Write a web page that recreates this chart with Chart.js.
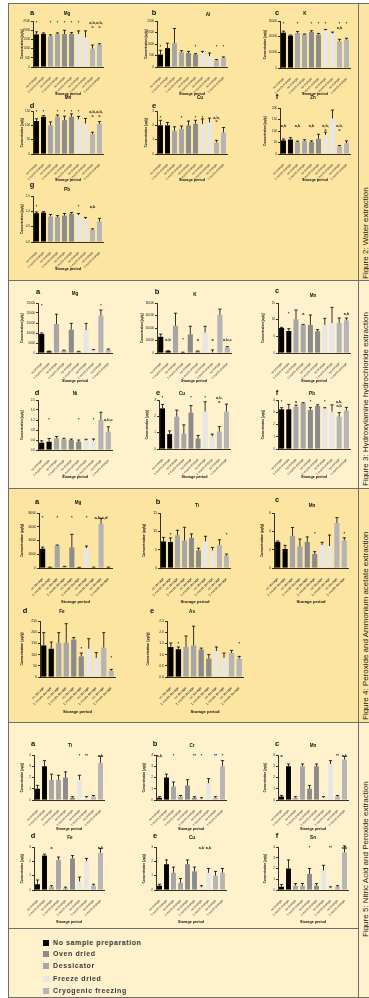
<!DOCTYPE html>
<html>
<head>
<meta charset="utf-8">
<script src="https://cdn.jsdelivr.net/npm/chart.js@4.4.1/dist/chart.umd.min.js"></script>
<style>
  html, body { margin: 0; padding: 0; background: #ffffff; }
  #page { position: relative; width: 369px; height: 998px; overflow: hidden;
          font-family: "Liberation Sans", Arial, sans-serif; color: #111; }
  .band { position: absolute; left: 8px; width: 361px; box-sizing: border-box; }
  .hline { position: absolute; height: 1px; background: #6e6e6e; }
  .vline { position: absolute; width: 1px; background: #6e6e6e; }
  .lbl { position: absolute; transform: translate(-50%, -50%); white-space: nowrap; font-weight: bold; line-height: 1; }
  .side { position: absolute; transform-origin: 0 0; transform: rotate(-90deg); white-space: nowrap;
          font-size: 8px; line-height: 9px; color: #222; }
  .leg { position: absolute; left: 43px; font-size: 7px; font-weight: bold; letter-spacing: 0.6px; color: #3a3a3a; line-height: 8px; }
  .leg i { display: inline-block; width: 6px; height: 6px; margin-right: 4px; vertical-align: -1px; }
  canvas { position: absolute; }
</style>
</head>
<body>
<div id="page"></div>
<script>
// Category axis shared by every panel
const storagePeriods = ['no storage', '1 month storage', 'no storage', '1 month storage', 'no storage',
                        '1 month storage', 'no storage', '1 month storage', 'no storage', '1 month storage'];

// ---- Figure 2: water extraction ----
const waterMg    = [1770, 1800, 1680, 1800, 1800, 1800, 1800, 1610, 1000, 1210];
const waterMgErr = [140, 55, 70, 55, 195, 70, 160, 355, 195, 55];
const waterMgSig = ['*', '', '*', '*', '*', '*', '*', '', 'a,b,\nc', 'a,b,\nc'];

const waterAl    = [540, 820, 1035, 640, 610, 540, 610, 470, 285, 400];
const waterAlErr = [185, 215, 640, 70, 70, 40, 70, 140, 40, 40];
const waterAlSig = ['*', '', '', '', '', '*', '', '', '*', '*'];

const waterK     = [22550, 20640, 22340, 21490, 22980, 21280, 24040, 22130, 17020, 18090];
const waterKErr  = [1000, 400, 1000, 200, 800, 800, 600, 800, 1300, 900];
const waterKSig  = ['*', '', '*', '', '*', '*', '*', '', '*\na,b', '*'];

const waterMn    = [115, 130, 100, 130, 118, 130, 121, 106, 70, 105];
const waterMnErr = [8, 4, 12, 6, 14, 10, 10, 18, 6, 8];
const waterMnSig = ['*', '*', '', '*', '*', '*', '*', '', 'a,b,\nc', 'a,b,\nc'];

const waterCu    = [2.0, 2.0, 1.6, 1.75, 2.0, 2.1, 2.1, 2.2, 0.8, 1.5];
const waterCuErr = [0.35, 0.2, 0.3, 0.2, 0.3, 0.25, 0.35, 0.3, 0.15, 0.35];
const waterCuSig = ['*', '', '', '*', '', '*', '*', '', 'a,b,\nc', ''];

const waterZn    = [59, 63, 52, 57, 52, 66, 83, 155, 33, 47];
const waterZnErr = [6, 8, 4, 5, 5, 20, 12, 36, 4, 10];
const waterZnSig = ['a,b', '', 'a,b', '', 'a,b', '', 'a,b,\nc', '', 'a,b,\nc', ''];

const waterPb    = [0.94, 0.96, 0.83, 0.81, 0.86, 0.92, 0.88, 0.75, 0.40, 0.67];
const waterPbErr = [0.04, 0.03, 0.07, 0.05, 0.07, 0.04, 0.05, 0.05, 0.03, 0.10];
const waterPbSig = ['*', '', '', '', '', '', '*', '', 'a,b', ''];

// ---- Figure 3: hydroxylamine hydrochloride extraction ----
const hydroxMg    = [9500, 850, 14500, 1200, 11650, 700, 11500, 1400, 18700, 1500];
const hydroxMgErr = [500, 150, 4900, 200, 3200, 150, 3300, 300, 2800, 500];
const hydroxMgSig = ['*', '', '', '', '', '', '', '', '*', ''];

const hydroxK     = [25900, 3200, 43700, 1100, 29800, 2800, 33000, 1000, 61000, 8700];
const hydroxKErr  = [4300, 600, 20000, 300, 13000, 500, 9700, 4000, 9200, 1500];
const hydroxKSig  = ['', 'a,b', '', '*', '', 'a', '', 'a', '', 'a,b,c'];

const hydroxMn    = [7.5, 6.6, 10.1, 8.4, 8.4, 6.5, 8.4, 9.0, 9.0, 9.8];
const hydroxMnErr = [0.2, 0.7, 2.8, 0.2, 3.0, 0.5, 2.0, 4.7, 1.5, 0.7];
const hydroxMnSig = ['', '*', '', 'a', '', '', '', '', '', 'a,b'];

const hydroxNi    = [0.29, 0.33, 0.47, 0.43, 0.40, 0.33, 0.38, 0.37, 1.20, 0.73];
const hydroxNiErr = [0.08, 0.13, 0.07, 0.04, 0.04, 0.07, 0.05, 0.07, 0.31, 0.20];
const hydroxNiSig = ['', '*', '', '', '', '*', '', '*', '', 'a,b,c'];

const hydroxCu    = [2.49, 0.91, 1.98, 0.93, 2.23, 0.63, 2.29, 0.77, 1.07, 2.29];
const hydroxCuErr = [0.24, 0.2, 0.4, 0.55, 0.43, 0.2, 0.6, 0.14, 0.3, 0.46];
const hydroxCuSig = ['*', '', '', '', '*', '', '*', '', 'a,b,\na', ''];

const hydroxPb    = [3.24, 3.24, 3.45, 3.73, 3.18, 3.51, 3.32, 3.05, 2.64, 3.13];
const hydroxPbErr = [0.13, 0.4, 0.13, 0.05, 0.2, 0.1, 0.05, 0.55, 0.33, 0.27];
const hydroxPbSig = ['*', '', 'a', '', '*', '', '*', '', 'a,b,\na,b', ''];

// ---- Figure 4: peroxide and ammonium acetate extraction ----
const acetateMg    = [2800, 100, 3240, 200, 3000, 80, 2900, 100, 6440, 100];
const acetateMgErr = [240, 30, 100, 50, 1900, 20, 300, 30, 780, 30];
const acetateMgSig = ['*', '', '*', '', '*', '', '*', '', 'a,b,c,d', ''];

const acetateTi    = [7.25, 7.1, 8.9, 7.5, 8.2, 4.8, 7.25, 4.8, 6.3, 3.4];
const acetateTiErr = [1.1, 1.1, 1.4, 3.6, 1.1, 0.6, 1.4, 0.8, 1.4, 0.4];
const acetateTiSig = ['', '*', '', '', '', '', '', '', '', '*'];

const acetateMn    = [2.84, 2.07, 3.52, 2.36, 2.84, 1.53, 2.5, 2.4, 4.9, 3.0];
const acetateMnErr = [0.1, 0.4, 0.9, 0.8, 0.55, 0.25, 0.3, 1.2, 0.6, 0.3];
const acetateMnSig = ['', '', '', '', '', '*', '', '', '', '*'];

const acetateFe    = [141, 126, 152, 153, 167, 92, 126, 85, 131, 27];
const acetateFeErr = [57, 30, 46, 85, 9, 15, 45, 24, 67, 7];
const acetateFeSig = ['', '', '', '', '', '*', '', '', '', '*'];

const acetateAs    = [1.34, 1.24, 1.34, 1.41, 1.22, 0.82, 1.16, 0.85, 1.07, 0.82];
const acetateAsErr = [0.18, 0.1, 0.49, 0.86, 0.07, 0.18, 0.18, 0.22, 0.12, 0.1];
const acetateAsSig = ['', '*', '', '', '', '', '', '', '', '*'];

// ---- Figure 5: nitric acid and peroxide extraction ----
const nitricTi    = [1.0, 3.0, 1.8, 1.8, 2.0, 0.2, 1.8, 0.2, 0.3, 3.3];
const nitricTiErr = [0.3, 0.5, 0.5, 0.4, 0.5, 0.1, 0.4, 0.1, 0.1, 0.6];
const nitricTiSig = ['', '', '', '', '', '', '*', '**', '', 'a,b'];

const nitricCr    = [0.2, 2.0, 1.2, 0.3, 1.3, 0.2, 0.1, 1.5, 0.2, 3.0];
const nitricCrErr = [0.1, 0.3, 0.4, 0.1, 0.5, 0.1, 0.1, 0.4, 0.1, 0.5];
const nitricCrSig = ['a,b', '', '*', '', '', '**', '*', '', '**', '*'];

const nitricMn    = [0.3, 3.0, 0.2, 3.0, 1.0, 3.0, 0.2, 3.2, 0.3, 3.6];
const nitricMnErr = [0.1, 0.2, 0.1, 0.2, 0.3, 0.2, 0.1, 0.3, 0.1, 0.3];
const nitricMnSig = ['a', '', '', '', '', '', '', '', '**', 'a,b'];

const nitricFe    = [0.4, 2.4, 0.2, 2.1, 0.1, 2.2, 0.6, 2.0, 0.3, 2.6];
const nitricFeErr = [0.3, 0.1, 0.1, 0.2, 0.1, 0.2, 0.3, 0.2, 0.1, 0.3];
const nitricFeSig = ['', '', 'a', '', '', '', '', '', '', 'a,b'];

const nitricCu    = [0.3, 1.8, 1.2, 0.5, 1.8, 1.3, 0.2, 1.2, 1.0, 1.2];
const nitricCuErr = [0.1, 0.3, 0.4, 0.3, 0.3, 0.3, 0.1, 0.3, 0.3, 0.3];
const nitricCuSig = ['', '', '', '', '', '', 'a,b', 'a,b', '', ''];

const nitricSn    = [0.3, 2.0, 0.4, 0.4, 1.5, 0.4, 1.8, 0.2, 0.3, 3.5];
const nitricSnErr = [0.2, 0.8, 0.2, 0.2, 0.5, 0.2, 0.5, 0.1, 0.1, 0.6];
const nitricSnSig = ['', '', '', '', '*', '', '', '**', '', 'a,b'];

// Bar fills, two bars per sample-preparation treatment
const barFill = ['#000000', '#000000', '#a6a6a6', '#a6a6a6', '#8b8b8b', '#8b8b8b',
                 '#e6e6e6', '#e6e6e6', '#b5b5b7', '#b5b5b7'];

const page = document.getElementById('page');

// ---------- page frame ----------
function box(cls, css) { const d = document.createElement('div'); d.className = cls; d.style.cssText = css; page.appendChild(d); return d; }
box('band', 'top:3px;height:277px;background:#fce4a1;');
box('band', 'top:280px;height:208px;background:#fef1cc;');
box('band', 'top:488px;height:234px;background:#fce4a1;');
box('band', 'top:722px;height:206px;background:#fef1cc;');
box('band', 'top:928px;height:69px;background:#fef1cc;');
box('hline', 'left:8px;top:3px;width:361px;');
box('hline', 'left:8px;top:280px;width:361px;');
box('hline', 'left:8px;top:488px;width:361px;');
box('hline', 'left:8px;top:722px;width:361px;');
box('hline', 'left:8px;top:928px;width:350px;');
box('hline', 'left:8px;top:997px;width:361px;');
box('vline', 'left:8px;top:3px;height:995px;');
box('vline', 'left:358px;top:3px;height:995px;');

function side(text, y) { const d = box('side', `left:360.5px;top:${y}px;`); d.textContent = text; }
side('Figure 2: Water extraction', 279);
side('Figure 3: Hydroxylamine hydrochloride extraction', 486);
side('Figure 4: Peroxide and Ammonium acetate extraction', 720);
side('Figure 5: Nitric Acid and Peroxide extraction', 937);

function label(text, x, y, size) { const d = box('lbl', `left:${x}px;top:${y}px;font-size:${size}px;`); d.textContent = text; }

// ---------- plugins ----------
const errorBars = {
  id: 'errorBars',
  afterDatasetsDraw(chart, args, opts) {
    const ys = chart.scales.y, ctx = chart.ctx, vals = chart.data.datasets[0].data;
    ctx.save();
    ctx.strokeStyle = '#000'; ctx.lineWidth = 0.8;
    chart.getDatasetMeta(0).data.forEach((bar, i) => {
      const e = opts.values[i];
      if (!e) return;
      const y0 = ys.getPixelForValue(vals[i]);
      const y1 = ys.getPixelForValue(vals[i] + e);
      ctx.beginPath();
      ctx.moveTo(bar.x, y0); ctx.lineTo(bar.x, y1);
      ctx.moveTo(bar.x - 1.6, y1); ctx.lineTo(bar.x + 1.6, y1);
      ctx.stroke();
    });
    ctx.restore();
  }
};

const sigMarks = {
  id: 'sigMarks',
  afterDatasetsDraw(chart, args, opts) {
    const ys = chart.scales.y, ctx = chart.ctx;
    ctx.save();
    ctx.fillStyle = '#111';
    ctx.font = `bold ${opts.size}px "Liberation Sans", Arial, sans-serif`;
    ctx.textAlign = 'center'; ctx.textBaseline = 'middle';
    chart.getDatasetMeta(0).data.forEach((bar, i) => {
      const s = opts.labels[i];
      if (!s) return;
      const at = Array.isArray(opts.at) ? opts.at[i] : opts.at;
      const y = ys.getPixelForValue(at);
      s.split('\n').forEach((line, k) => ctx.fillText(line, bar.x, y + k * opts.size * 1.05));
    });
    ctx.restore();
  }
};

// ---------- one bar panel ----------
function panel(p) {
  const [pl, pt, pr, pb] = p.box;
  const fs = p.fs;
  const left = Math.round(p.yt - fs * 0.6);
  const top = pt - 6;
  const width = pr + 6 - left;
  const height = pb + p.xh - top;
  const cv = document.createElement('canvas');
  cv.width = width; cv.height = height;
  cv.style.cssText = `left:${left}px;top:${top}px;width:${width}px;height:${height}px;`;
  page.appendChild(cv);
  label(p.letter, p.lx, p.ly, 7.5);
  label(p.name, p.nx, p.ny, 4.6);
  new Chart(cv, {
    type: 'bar',
    data: { labels: storagePeriods,
            datasets: [{ data: p.values, backgroundColor: barFill, borderWidth: 0,
                         barPercentage: 0.7, categoryPercentage: 1 }] },
    options: {
      responsive: false, animation: false, events: [],
      layout: { padding: { top: 6, right: 6, left: 0, bottom: 0 } },
      plugins: {
        legend: { display: false }, tooltip: { enabled: false },
        errorBars: { values: p.err },
        sigMarks: { labels: p.sig, at: p.at, size: fs + 0.8 }
      },
      scales: {
        x: {
          ticks: { font: { size: p.xfs }, color: '#222', maxRotation: 45, minRotation: 45, autoSkip: false, padding: 1 },
          grid: { display: false },
          border: { color: '#000', width: 0.8 },
          title: { display: true, text: 'Storage period', color: '#111',
                   font: { size: p.xfs + 0.7, weight: 'bold' }, padding: { top: 0, bottom: 1 } },
          afterFit(s) { s.height = p.xh; s.paddingLeft = 0; s.paddingRight = 0; }
        },
        y: {
          min: 0, max: p.max,
          ticks: { stepSize: p.step, font: { size: fs }, color: '#222', padding: 1,
                   callback: v => v.toFixed(p.dec || 0) },
          grid: { drawOnChartArea: false, drawTicks: true, tickLength: 2, color: '#000', lineWidth: 0.8 },
          border: { color: '#000', width: 0.8 },
          title: { display: true, text: 'Concentration (µg/g)', color: '#111',
                   font: { size: fs, weight: 'bold' }, padding: 0 },
          afterFit(s) { s.width = pl - left; }
        }
      }
    },
    plugins: [errorBars, sigMarks]
  });
}

// Figure 2
const f2 = { fs: 3, xfs: 3 };
panel({ ...f2, box: [33, 21, 103, 67], yt: 22, xh: 30, max: 2500, step: 500, values: waterMg, err: waterMgErr, sig: waterMgSig, at: 2420,
        letter: 'a', lx: 32, ly: 13, name: 'Mg', nx: 67, ny: 14 });
panel({ ...f2, box: [157, 21, 227, 67], yt: 146, xh: 30, max: 2000, step: 500, values: waterAl, err: waterAlErr, sig: waterAlSig, at: 880,
        letter: 'b', lx: 154, ly: 13, name: 'Al', nx: 208, ny: 15 });
panel({ ...f2, box: [280, 21, 350, 68], yt: 265, xh: 29, max: 30000, step: 10000, values: waterK, err: waterKErr, sig: waterKSig, at: 28000,
        letter: 'c', lx: 277, ly: 13, name: 'K', nx: 305, ny: 14 });
panel({ ...f2, box: [33, 111, 103, 154], yt: 22, xh: 29, max: 150, step: 50, values: waterMn, err: waterMnErr, sig: waterMnSig, at: 147,
        letter: 'd', lx: 32, ly: 106, name: 'Mn', nx: 68, ny: 98 });
panel({ ...f2, box: [157, 111, 227, 154], yt: 146, xh: 29, max: 3, step: 1, values: waterCu, err: waterCuErr, sig: waterCuSig, at: 2.55,
        letter: 'e', lx: 154, ly: 106, name: 'Cu', nx: 200, ny: 98 });
panel({ ...f2, box: [280, 108, 350, 154], yt: 265, xh: 29, max: 200, step: 50, values: waterZn, err: waterZnErr, sig: waterZnSig, at: 122,
        letter: 'f', lx: 277, ly: 97, name: 'Zn', nx: 313, ny: 98 });
panel({ ...f2, box: [33, 196, 103, 242], yt: 22, xh: 30, max: 1.5, step: 0.5, dec: 1, values: waterPb, err: waterPbErr, sig: waterPbSig, at: 1.15,
        letter: 'g', lx: 32, ly: 185, name: 'Pb', nx: 67, ny: 190 });

// Figure 3
const f3 = { fs: 3, xfs: 3 };
panel({ ...f3, box: [38, 303, 112, 353], yt: 22, xh: 31, max: 25000, step: 5000, values: hydroxMg, err: hydroxMgErr, sig: hydroxMgSig, at: 23300,
        letter: 'a', lx: 38, ly: 292, name: 'Mg', nx: 75, ny: 294 });
panel({ ...f3, box: [157, 303, 231, 353], yt: 142, xh: 31, max: 80000, step: 20000, values: hydroxK, err: hydroxKErr, sig: hydroxKSig, at: 20500,
        letter: 'b', lx: 157, ly: 292, name: 'K', nx: 195, ny: 295 });
panel({ ...f3, box: [278, 303, 350, 353], yt: 263, xh: 31, max: 15, step: 5, values: hydroxMn, err: hydroxMnErr, sig: hydroxMnSig, at: 11.6,
        letter: 'c', lx: 277, ly: 291, name: 'Mn', nx: 313, ny: 296 });
panel({ ...f3, box: [38, 400, 112, 450], yt: 22, xh: 30, max: 2.0, step: 0.4, dec: 1, values: hydroxNi, err: hydroxNiErr, sig: hydroxNiSig, at: 1.2,
        letter: 'd', lx: 37, ly: 393, name: 'Ni', nx: 75, ny: 394 });
panel({ ...f3, box: [159, 400, 230, 449], yt: 147, xh: 31, max: 3, step: 1, values: hydroxCu, err: hydroxCuErr, sig: hydroxCuSig, at: 3.1,
        letter: 'e', lx: 158, ly: 393, name: 'Cu', nx: 182, ny: 394 });
panel({ ...f3, box: [278, 400, 350, 449], yt: 263, xh: 31, max: 4, step: 1, values: hydroxPb, err: hydroxPbErr, sig: hydroxPbSig, at: 3.86,
        letter: 'f', lx: 277, ly: 393, name: 'Pb', nx: 312, ny: 394 });

// Figure 4
const f4 = { fs: 3.4, xfs: 3.4 };
panel({ ...f4, box: [39, 513, 112, 568], yt: 22, xh: 37, max: 8000, step: 2000, values: acetateMg, err: acetateMgErr, sig: acetateMgSig, at: 7270,
        letter: 'a', lx: 37, ly: 502, name: 'Mg', nx: 78, ny: 503 });
panel({ ...f4, box: [160, 513, 230, 568], yt: 144, xh: 37, max: 15, step: 5, values: acetateTi, err: acetateTiErr, sig: acetateTiSig, at: 9.1,
        letter: 'b', lx: 158, ly: 502, name: 'Ti', nx: 197, ny: 506 });
panel({ ...f4, box: [274, 513, 348, 568], yt: 262, xh: 37, max: 6, step: 2, values: acetateMn, err: acetateMnErr, sig: acetateMnSig, at: 3.7,
        letter: 'c', lx: 277, ly: 500, name: 'Mn', nx: 312, ny: 506 });
panel({ ...f4, box: [40, 621, 115, 677], yt: 22, xh: 38, max: 250, step: 50, values: acetateFe, err: acetateFeErr, sig: acetateFeSig,
        at: [0, 0, 0, 0, 0, 124, 0, 0, 0, 85],
        letter: 'd', lx: 25, ly: 611, name: 'Fe', nx: 62, ny: 612 });
panel({ ...f4, box: [167, 621, 243, 677], yt: 148, xh: 38, max: 2.5, step: 0.5, dec: 1, values: acetateAs, err: acetateAsErr, sig: acetateAsSig, at: 1.49,
        letter: 'e', lx: 152, ly: 611, name: 'As', nx: 192, ny: 612 });

// Figure 5
const f5 = { fs: 3, xfs: 3 };
panel({ ...f5, box: [34, 755, 104, 800], yt: 22, xh: 32, max: 4, step: 1, values: nitricTi, err: nitricTiErr, sig: nitricTiSig, at: 3.95,
        letter: 'a', lx: 33, ly: 744, name: 'Ti', nx: 70, ny: 746 });
panel({ ...f5, box: [156, 755, 226, 800], yt: 144, xh: 32, max: 4, step: 1, values: nitricCr, err: nitricCrErr, sig: nitricCrSig, at: 3.95,
        letter: 'b', lx: 155, ly: 744, name: 'Cr', nx: 192, ny: 746 });
panel({ ...f5, box: [278, 755, 348, 800], yt: 265, xh: 32, max: 4, step: 1, values: nitricMn, err: nitricMnErr, sig: nitricMnSig, at: 3.95,
        letter: 'c', lx: 277, ly: 744, name: 'Mn', nx: 313, ny: 746 });
panel({ ...f5, box: [34, 847, 104, 890], yt: 22, xh: 35, max: 3, step: 1, values: nitricFe, err: nitricFeErr, sig: nitricFeSig, at: 2.95,
        letter: 'd', lx: 33, ly: 836, name: 'Fe', nx: 70, ny: 838 });
panel({ ...f5, box: [156, 847, 226, 890], yt: 144, xh: 35, max: 3, step: 1, values: nitricCu, err: nitricCuErr, sig: nitricCuSig, at: 2.95,
        letter: 'e', lx: 155, ly: 836, name: 'Cu', nx: 192, ny: 838 });
panel({ ...f5, box: [278, 847, 348, 890], yt: 265, xh: 35, max: 4, step: 1, values: nitricSn, err: nitricSnErr, sig: nitricSnSig, at: 3.95,
        letter: 'f', lx: 277, ly: 836, name: 'Sn', nx: 313, ny: 838 });

// ---------- legend ----------
const legendItems = [['No sample preparation', '#000000', 939], ['Oven dried', '#8b8b8b', 950],
                     ['Dessicator', '#a6a6a6', 962], ['Freeze dried', '#e6e6e6', 975], ['Cryogenic freezing', '#b5b5b7', 987]];
legendItems.forEach(([t, c, y]) => {
  const d = box('leg', `top:${y}px;`);
  const sw = document.createElement('i'); sw.style.background = c;
  d.appendChild(sw); d.appendChild(document.createTextNode(t));
});
</script>
</body>
</html>
